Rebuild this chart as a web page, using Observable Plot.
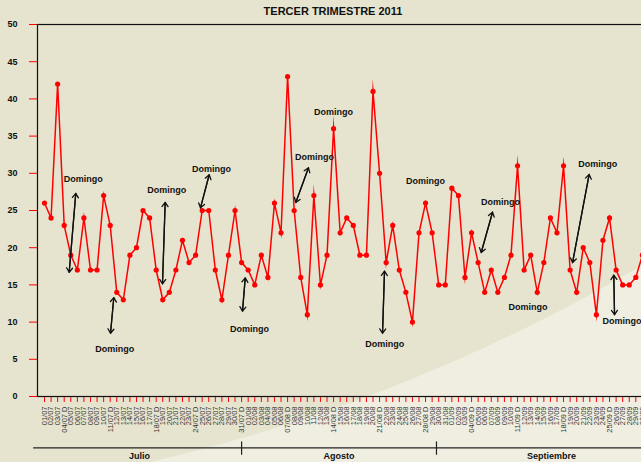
<!DOCTYPE html>
<html>
<head>
<meta charset="utf-8">
<script src="https://cdn.jsdelivr.net/npm/d3@7"></script>
<script src="https://cdn.jsdelivr.net/npm/@observablehq/plot@0.6"></script>
<style>
  html, body { margin: 0; padding: 0; }
  body { width: 641px; height: 462px; overflow: hidden; background: #e6e4cf; position: relative;
         font-family: "Liberation Sans", Arial, sans-serif; }
  #bg { position: absolute; left: 0; top: 0; }
  #wrap { position: absolute; left: 0; top: 0; width: 666px; }
  #title { height: 20px; line-height: 23px; text-align: center; font-weight: bold; font-size: 11px; color: #111; }
</style>
</head>
<body>
<svg id="bg" width="666" height="462"><path d="M150,462 Q420,400 666,251 L666,462 Z" fill="#efeee1"/></svg>
<div id="wrap">
  <div id="title">TERCER TRIMESTRE 2011</div>
  <div id="chart"></div>
</div>
<script>
// Daily values, 1 July – 30 September 2011
const julio = [26,24,42,23,19,17,24,17,17,27,23,14,13,19,20,25,24,17,13,14,17,21,18,19,25,25,17,13,19,25,18];
const agosto = [17,15,19,16,26,22,43,25,16,11,27,15,19,36,22,24,23,19,19,41,30,18,23,17,14,10,22,26,22,15,15];
const septiembre = [28,27,16,22,18,14,17,14,16,19,31,17,19,14,18,24,22,31,17,14,20,18,11,21,24,17,15,15,16,19];

const labelsJulio = ["01/07","02/07","03/07","04/07 D","05/07","06/07","07/07","08/07","09/07","10/07","11/07 D","12/07","13/07","14/07","15/07","16/07","17/07","18/07 D","19/07","20/07","21/07","22/07","23/07","24/07 D","25/07","26/07","27/07","28/07","29/07","30/07","31/07 D"];
const labelsAgosto = ["01/08","02/08","03/08","04/08","05/08","06/08","07/08 D","08/08","09/08","10/08","11/08","12/08","13/08","14/08 D","15/08","16/08","17/08","18/08","19/08","20/08","21/08 D","22/08","23/08","24/08","25/08","26/08","27/08","28/08 D","29/08","30/08","31/08"];
const labelsSeptiembre = ["01/09","02/09","03/09","04/09 D","05/09","06/09","07/09","08/09","09/09","10/09","11/09 D","12/09","13/09","14/09","15/09","16/09","17/09","18/09 D","19/09","20/09","21/09","22/09","23/09","24/09","25/09 D","26/09","27/09","28/09","29/09","30/09"];

const months = ["Julio","Agosto","Septiembre"];
const yTicks = [0,5,10,15,20,25,30,35,40,45,50];

// "Domingo" notes (x = day index, y = value units)
const noteX = [5.9,10.7,18.6,25.4,31.2,41.1,44.0,51.8,58.0,69.4,73.6,84.2,87.9];
const noteY = [29.2,6.4,27.8,30.5,9.1,32.2,38.2,7.1,28.9,26.1,12.0,31.3,10.1];
// double arrows [x1, y1, x2, y2]
const arrowsData = [
  [4.76,27.3,3.76,16.7],
  [10.55,13.3,10.05,8.5],
  [18.37,26.1,17.96,15.15],
  [25.07,29.8,23.74,25.36],
  [30.55,15.95,30.14,11.47],
  [40.18,30.74,38.25,26.08],
  [51.75,16.84,51.45,8.51],
  [68.19,24.77,66.47,19.35],
  [82.9,29.84,80.37,18.0],
  [86.65,16.3,86.76,11.0]
];

const values = [...julio, ...agosto, ...septiembre];
const labels = [...labelsJulio, ...labelsAgosto, ...labelsSeptiembre];
const data = values.map((v, i) => ({i, v, label: labels[i]}));
const notes = noteX.map((x, k) => ({x, y: noteY[k]}));
const arrows = arrowsData.map(([x1,y1,x2,y2]) => ({x1,y1,x2,y2}));

const xMin = -1.065, xMax = 94.67;
const sep = [labelsJulio.length - 1, labelsJulio.length + labelsAgosto.length - 2.34];
const edges = [xMin, ...sep, xMax];
const monthData = months.map((m, k) => ({m, x: (edges[k] + edges[k+1]) / 2}));

const font = "Liberation Sans, Arial, sans-serif";

const chart = Plot.plot({
  width: 666,
  height: 442,
  marginTop: 4,
  marginBottom: 66,
  marginLeft: 37,
  marginRight: 0,
  style: {background: "transparent", overflow: "visible", fontFamily: font},
  x: {type: "linear", domain: [xMin, xMax], axis: null},
  y: {domain: [0, 50], axis: null},
  marks: [
    Plot.axisY({ticks: yTicks, tickSize: 8, tickPadding: 12, stroke: "#ff0000", fill: "#111", fontWeight: "bold", fontSize: 9, label: null}),
    Plot.axisX({ticks: d3.range(values.length), tickFormat: i => labels[i], tickRotate: -90, tickSize: 6, tickPadding: 4,
                stroke: "#ff0000", fill: "#333", fontSize: 7.5, label: null}),
    Plot.frame({stroke: "#111", strokeWidth: 1.2}),
    // month bracket under the axis
    Plot.ruleY([-6.9], {x1: -1.65, x2: xMax, stroke: "#222", strokeWidth: 1.2, clip: false}),
    Plot.ruleX(sep, {y1: -6.1, y2: -7.9, stroke: "#222", strokeWidth: 1.2, clip: false}),
    Plot.text(monthData, {x: "x", y: -8.05, text: "m", fontWeight: "bold", fontSize: 9, fill: "#111", lineAnchor: "middle"}),
    // series
    Plot.line(data, {x: "i", y: "v", stroke: "#ff0000", strokeWidth: 1.5, strokeLinejoin: "miter", strokeMiterlimit: 20}),
    Plot.dot(data, {x: "i", y: "v", r: 2.6, fill: "#ff0000", stroke: "none"}),
    // annotations
    Plot.arrow(arrows, {x1: "x1", y1: "y1", x2: "x2", y2: "y2", stroke: "#111", strokeWidth: 1.3, headLength: 6, headAngle: 70}),
    Plot.arrow(arrows, {x1: "x2", y1: "y2", x2: "x1", y2: "y1", stroke: "#111", strokeWidth: 1.3, headLength: 6, headAngle: 70}),
    Plot.text(notes, {x: "x", y: "y", text: () => "Domingo", fontWeight: "bold", fontSize: 9, fill: "#111", lineAnchor: "middle"})
  ]
});
document.getElementById("chart").appendChild(chart);
</script>
</body>
</html>
